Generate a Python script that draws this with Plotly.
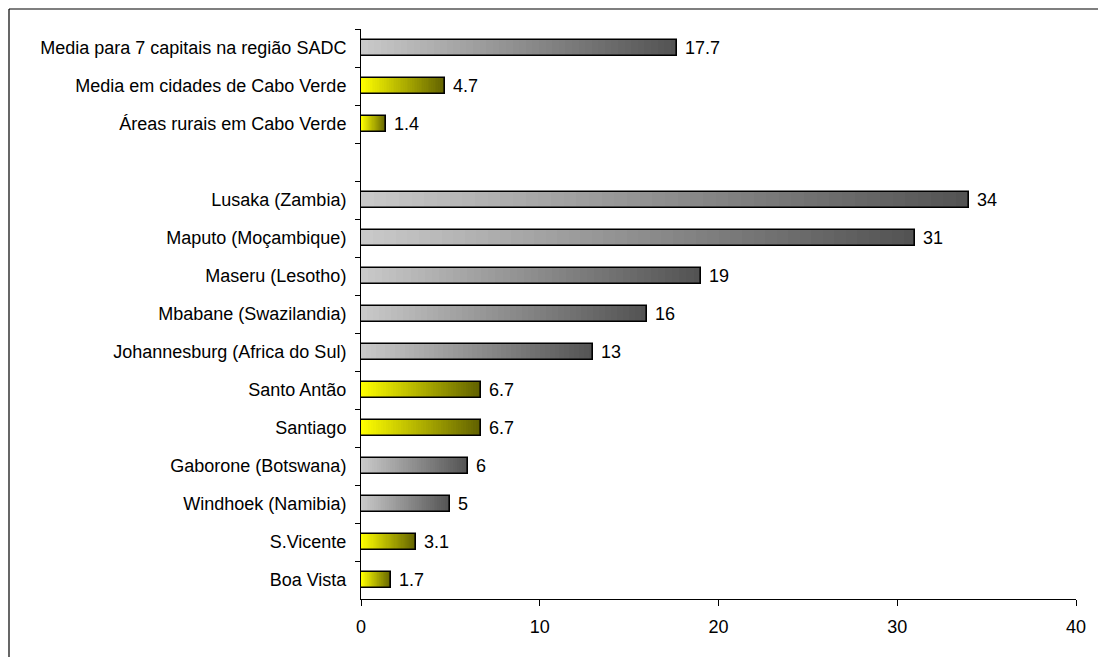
import plotly.graph_objects as go

# Categories from top to bottom; the blank entry leaves an empty slot between groups
categories = [
    "Media para 7 capitais na região SADC",
    "Media em cidades de Cabo Verde",
    "Áreas rurais em Cabo Verde",
    " ",
    "Lusaka (Zambia)",
    "Maputo (Moçambique)",
    "Maseru (Lesotho)",
    "Mbabane (Swazilandia)",
    "Johannesburg (Africa do Sul)",
    "Santo Antão",
    "Santiago",
    "Gaborone (Botswana)",
    "Windhoek (Namibia)",
    "S.Vicente",
    "Boa Vista",
]
values = [17.7, 4.7, 1.4, None, 34, 31, 19, 16, 13, 6.7, 6.7, 6, 5, 3.1, 1.7]
# "cv" = Cabo Verde (yellow), "sadc" = regional capitals (grey)
groups = ["sadc", "cv", "cv", None, "sadc", "sadc", "sadc", "sadc", "sadc",
          "cv", "cv", "sadc", "sadc", "cv", "cv"]

x_ticks = [0, 10, 20, 30, 40]

FONT = "Liberation Sans, Arial, sans-serif"
FONT_SIZE = 18
GRADIENTS = {
    "sadc": ((202, 202, 202), (82, 82, 82)),
    "cv": ((255, 255, 0), (96, 96, 0)),
}
N_STEPS = 48
BAR_WIDTH = 0.42

W, H = 1098, 657
M_L, M_R, M_T, M_B = 361, 22, 29, 58


def mix(c0, c1, t):
    return "rgb({},{},{})".format(*[round(a + (b - a) * t) for a, b in zip(c0, c1)])


fig = go.Figure()

# Horizontal gradient: overlapping bars, each shorter one a little lighter,
# so the visible band of each step carries its own shade.
for k in range(N_STEPS):
    frac = (N_STEPS - k) / N_STEPS
    t = (N_STEPS - k - 0.5) / N_STEPS
    xs, colors = [], []
    for v, g in zip(values, groups):
        if v is None:
            xs.append(None)
            colors.append("rgba(0,0,0,0)")
        else:
            xs.append(v * frac)
            colors.append(mix(*GRADIENTS[g], t))
    fig.add_trace(go.Bar(
        y=categories, x=xs, orientation="h", width=BAR_WIDTH,
        marker=dict(color=colors, line=dict(width=0)),
        hoverinfo="skip", showlegend=False,
    ))

# Black outline on top of the gradient
fig.add_trace(go.Bar(
    y=categories, x=values, orientation="h", width=BAR_WIDTH,
    marker=dict(color="rgba(0,0,0,0)", line=dict(color="black", width=1.6)),
    showlegend=False,
))

# Value labels to the right of each bar
for c, v in zip(categories, values):
    if v is None:
        continue
    fig.add_annotation(
        x=v, y=c, xref="x", yref="y", text=f"{v:g}", showarrow=False,
        xanchor="left", yanchor="middle", xshift=6,
        font=dict(family=FONT, size=FONT_SIZE, color="black"),
    )

# Outer chart frame: top and left edges, running to the page borders
plot_w, plot_h = W - M_L - M_R, H - M_T - M_B
frame_l = (9 - M_L) / plot_w
frame_t = 1 + (M_T - 9) / plot_h
page_r = 1 + M_R / plot_w
page_b = -M_B / plot_h
fig.add_shape(type="line", xref="paper", yref="paper",
              x0=frame_l, x1=page_r, y0=frame_t, y1=frame_t,
              line=dict(color="black", width=1.2))
fig.add_shape(type="line", xref="paper", yref="paper",
              x0=frame_l, x1=frame_l, y0=page_b, y1=frame_t,
              line=dict(color="black", width=1.2))

fig.update_layout(
    width=W, height=H,
    margin=dict(l=M_L, r=M_R, t=M_T, b=M_B),
    paper_bgcolor="white", plot_bgcolor="white",
    barmode="overlay", bargap=0,
    font=dict(family=FONT, size=FONT_SIZE, color="black"),
    xaxis=dict(
        range=[0, 40], tickvals=x_ticks, ticktext=[str(t) for t in x_ticks],
        showgrid=False, zeroline=False,
        showline=True, linecolor="black", linewidth=1,
        ticks="outside", ticklen=6, tickcolor="black", tickwidth=1,
        tickfont=dict(family=FONT, size=FONT_SIZE, color="black"),
        ticklabelstandoff=5,
    ),
    yaxis=dict(
        categoryorder="array", categoryarray=categories,
        autorange="reversed",
        showgrid=False, zeroline=False,
        showline=True, linecolor="black", linewidth=1,
        ticks="outside", ticklen=5, tickcolor="black", tickwidth=1,
        tickson="boundaries",
        tickfont=dict(family=FONT, size=FONT_SIZE, color="black"),
        ticklabelstandoff=10,
    ),
)

# Keep the page itself free of scrollbars
fig.write_html(
    "out.html",
    post_script="document.documentElement.style.overflow='hidden';"
                "document.body.style.overflow='hidden';",
)
